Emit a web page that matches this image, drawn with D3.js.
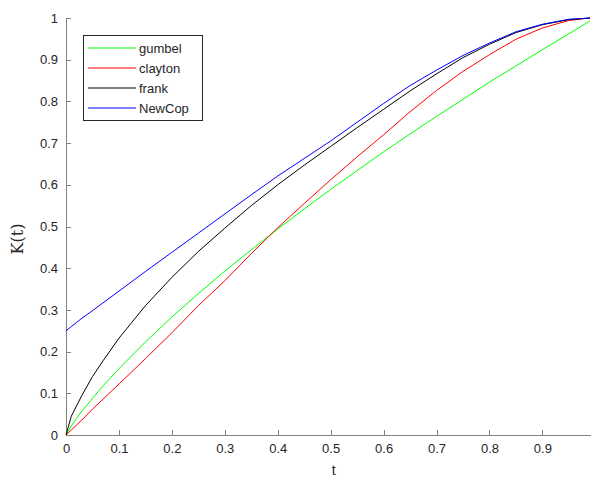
<!DOCTYPE html>
<meta charset="utf-8">
<head>
<style>
body { margin: 0; background: #fff; font: 13px Arial, "Liberation Sans", sans-serif; }
.axis path, .axis line { fill: none; stroke: #7f7f7f; shape-rendering: crispEdges; }
.axis text { fill: #262626; font: 13px Arial, "Liberation Sans", sans-serif; }
.curve { fill: none; stroke-width: 1; }
</style>
</head>
<body>
<script src="https://d3js.org/d3.v7.min.js"></script>
<script>

// t grid (shared by all curves)
var tVals = [0, 0.01, 0.02, 0.03, 0.05, 0.07, 0.1, 0.15, 0.2, 0.25, 0.3, 0.35, 0.4,
             0.45, 0.5, 0.55, 0.6, 0.65, 0.7, 0.75, 0.8, 0.85, 0.9, 0.95, 0.99];

// K(t)
var gumbel  = [0, 0.022, 0.040, 0.057, 0.088, 0.118, 0.159, 0.223, 0.283, 0.339, 0.393, 0.444, 0.494,
               0.542, 0.589, 0.634, 0.679, 0.722, 0.764, 0.805, 0.846, 0.885, 0.924, 0.962, 0.993];
var clayton = [0, 0.012, 0.024, 0.036, 0.062, 0.086, 0.122, 0.183, 0.245, 0.31, 0.37, 0.435, 0.497,
               0.555, 0.612, 0.667, 0.72, 0.775, 0.826, 0.872, 0.912, 0.949, 0.976, 0.994, 1.0];
var frank   = [0, 0.045, 0.07, 0.095, 0.14, 0.178, 0.232, 0.31, 0.378, 0.44, 0.496, 0.55, 0.6,
               0.647, 0.692, 0.737, 0.781, 0.825, 0.866, 0.905, 0.937, 0.965, 0.984, 0.996, 1.0];
var newCop  = [0.25, 0.26, 0.27, 0.28, 0.298, 0.317, 0.345, 0.392, 0.438, 0.484, 0.53, 0.576, 0.621,
               0.663, 0.705, 0.75, 0.795, 0.838, 0.875, 0.91, 0.94, 0.967, 0.985, 0.997, 1.0];

var seriesNames  = ["gumbel", "clayton", "frank", "NewCop"];
var seriesColors = ["#00ff00", "#ff0000", "#000000", "#0000ff"];
var seriesVals   = [gumbel, clayton, frank, newCop];

var xTicks = [0, 0.1, 0.2, 0.3, 0.4, 0.5, 0.6, 0.7, 0.8, 0.9];
var yTicks = [0, 0.1, 0.2, 0.3, 0.4, 0.5, 0.6, 0.7, 0.8, 0.9, 1];

var W = 592, H = 480;
var margin = { top: 18, right: 2, bottom: 45, left: 66 };
var width = W - margin.left - margin.right,
    height = H - margin.top - margin.bottom;

var svg = d3.select("body").append("svg")
    .attr("width", W)
    .attr("height", H);

var g = svg.append("g")
    .attr("transform", "translate(" + margin.left + "," + margin.top + ")");

var x = d3.scaleLinear().domain([0, 0.99]).range([0, width]);
var y = d3.scaleLinear().domain([0, 1]).range([height, 0]);

// axes, ticks pointing inward like matlab
g.append("g")
    .attr("class", "axis")
    .attr("transform", "translate(0," + height + ")")
    .call(d3.axisBottom(x).tickValues(xTicks).tickFormat(d3.format("")).tickSizeInner(-5).tickSizeOuter(0).tickPadding(9));

g.append("g")
    .attr("class", "axis")
    .call(d3.axisLeft(y).tickValues(yTicks).tickFormat(d3.format("")).tickSizeInner(-5).tickSizeOuter(0).tickPadding(8));

// curves
var line = d3.line()
    .x(function (d) { return x(d[0]); })
    .y(function (d) { return y(d[1]); });

seriesVals.forEach(function (vals, i) {
  g.append("path")
    .datum(tVals.map(function (t, j) { return [t, vals[j]]; }))
    .attr("class", "curve")
    .attr("stroke", seriesColors[i])
    .attr("d", line);
});

// axis labels
svg.append("text")
    .attr("x", margin.left + x(0.5) + 3)
    .attr("y", 475)
    .attr("text-anchor", "middle")
    .attr("fill", "#262626")
    .style("font", "14px Arial, 'Liberation Sans', sans-serif")
    .text("t");

svg.append("text")
    .attr("transform", "translate(23," + (margin.top + y(0.47)) + ") rotate(-90)")
    .attr("text-anchor", "middle")
    .attr("fill", "#262626")
    .style("font", "16px 'DejaVu Serif', 'Liberation Serif', serif")
    .text("K(t)");

// legend
var leg = svg.append("g").attr("transform", "translate(83,35)");
leg.append("rect")
    .attr("width", 119)
    .attr("height", 85)
    .attr("fill", "#fff")
    .attr("stroke", "#262626")
    .attr("shape-rendering", "crispEdges");

seriesNames.forEach(function (name, i) {
  var ly = 13 + i * 20;
  leg.append("line")
    .attr("x1", 5).attr("x2", 53)
    .attr("y1", ly).attr("y2", ly)
    .attr("stroke", seriesColors[i])
    .attr("stroke-width", 1);
  leg.append("text")
    .attr("x", 56)
    .attr("y", ly + 5)
    .attr("fill", "#262626")
    .text(name);
});

</script>
</body>
